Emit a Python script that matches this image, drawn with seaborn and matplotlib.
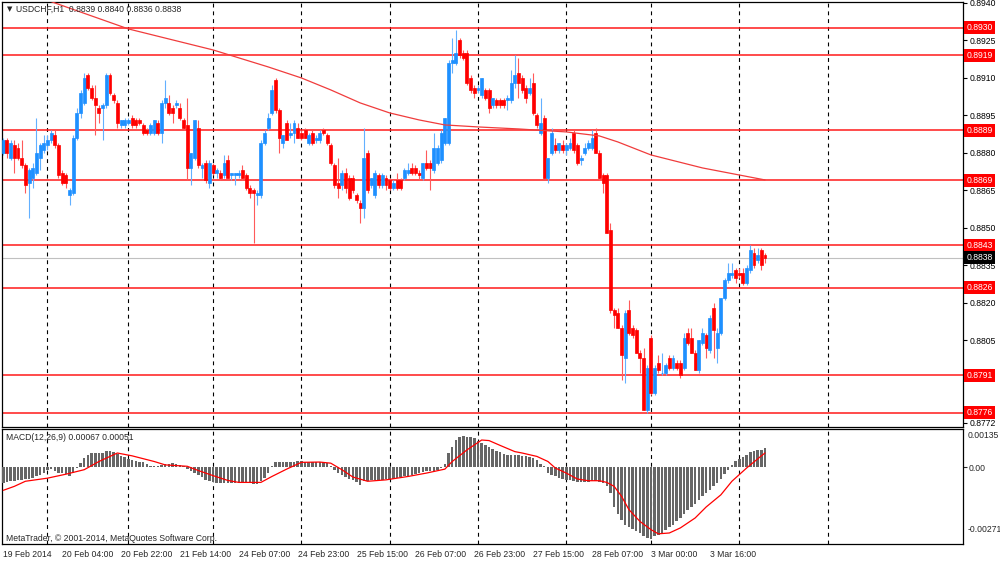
import numpy as np
import pandas as pd
import seaborn as sns
import matplotlib.pyplot as plt
from matplotlib import transforms

# USDCHF H1 bars, 19 Feb - 3 Mar 2014
opens = [
    0.8880, 0.8885, 0.8878, 0.8883, 0.8882, 0.8878, 0.8875, 0.8868, 0.8870, 0.8872,
    0.8878, 0.8881, 0.8883, 0.8885, 0.8887, 0.8883, 0.8872, 0.8871, 0.8863, 0.8864,
    0.8886, 0.8896, 0.8900, 0.8911, 0.8906, 0.8902, 0.8898, 0.8898, 0.8899, 0.8911,
    0.8903, 0.8900, 0.8891, 0.8891, 0.8892, 0.8894, 0.8893, 0.8893, 0.8891, 0.8889,
    0.8888, 0.8888, 0.8892, 0.8888, 0.8900, 0.8900, 0.8898, 0.8899, 0.8898, 0.8893,
    0.8891, 0.8874, 0.8878, 0.8890, 0.8874, 0.8876, 0.8868, 0.8875, 0.8872, 0.8872,
    0.8871, 0.8877, 0.8871, 0.8871, 0.8871, 0.8873, 0.8871, 0.8866, 0.8865, 0.8863,
    0.8863, 0.8884, 0.8890, 0.8896, 0.8909, 0.8897, 0.8884, 0.8892, 0.8887, 0.8888,
    0.8890, 0.8888, 0.8889, 0.8884, 0.8888, 0.8885, 0.8885, 0.8889, 0.8887, 0.8883,
    0.8875, 0.8868, 0.8867, 0.8872, 0.8870, 0.8870, 0.8863, 0.8860, 0.8858, 0.8880,
    0.8867, 0.8863, 0.8871, 0.8867, 0.8870, 0.8869, 0.8866, 0.8869, 0.8869, 0.8870,
    0.8872, 0.8874, 0.8874, 0.8872, 0.8870, 0.8876, 0.8876, 0.8873, 0.8876, 0.8877,
    0.8884, 0.8884, 0.8916, 0.8916, 0.8925, 0.8920, 0.8920, 0.8910, 0.8906, 0.8905,
    0.8903, 0.8905, 0.8905, 0.8899, 0.8901, 0.8901, 0.8901, 0.8901, 0.8901, 0.8908,
    0.8912, 0.8910, 0.8906, 0.8904, 0.8908, 0.8895, 0.8888, 0.8894, 0.8870, 0.8880,
    0.8883, 0.8881, 0.8883, 0.8881, 0.8882, 0.8888, 0.8883, 0.8877, 0.8880, 0.8882,
    0.8882, 0.8888, 0.8880, 0.8871, 0.8871, 0.8849, 0.8817, 0.8816, 0.8810, 0.8798,
    0.8817, 0.8810, 0.8809, 0.8800, 0.8798, 0.8777, 0.8806, 0.8784, 0.8796, 0.8792,
    0.8792, 0.8798, 0.8794, 0.8796, 0.8796, 0.8794, 0.8808, 0.8806, 0.8800, 0.8793,
    0.8804, 0.8807, 0.8801, 0.8818, 0.8802, 0.8808, 0.8822, 0.8829, 0.8831, 0.8833,
    0.8832, 0.8832, 0.8828, 0.8833, 0.8840, 0.8837, 0.8841, 0.8839,
]
highs = [
    0.8886, 0.8886, 0.8885, 0.8885, 0.8884, 0.8885, 0.8876, 0.8874, 0.8876, 0.8894,
    0.8884, 0.8887, 0.8887, 0.8889, 0.8889, 0.8884, 0.8873, 0.8872, 0.8866, 0.8887,
    0.8898, 0.8905, 0.8912, 0.8912, 0.8907, 0.8907, 0.8899, 0.8900, 0.8912, 0.8912,
    0.8904, 0.8901, 0.8893, 0.8894, 0.8894, 0.8895, 0.8894, 0.8894, 0.8892, 0.8890,
    0.8892, 0.8893, 0.8893, 0.8901, 0.8909, 0.8903, 0.8899, 0.8901, 0.8900, 0.8894,
    0.8902, 0.8880, 0.8893, 0.8893, 0.8876, 0.8877, 0.8877, 0.8876, 0.8874, 0.8873,
    0.8879, 0.8879, 0.8872, 0.8872, 0.8873, 0.8875, 0.8872, 0.8867, 0.8866, 0.8865,
    0.8885, 0.8889, 0.8896, 0.8907, 0.8910, 0.8898, 0.8887, 0.8893, 0.8892, 0.8893,
    0.8892, 0.8889, 0.8890, 0.8888, 0.8889, 0.8887, 0.8889, 0.8890, 0.8888, 0.8884,
    0.8876, 0.8878, 0.8873, 0.8874, 0.8871, 0.8871, 0.8864, 0.8861, 0.8890, 0.8881,
    0.8870, 0.8873, 0.8872, 0.8872, 0.8871, 0.8870, 0.8869, 0.8872, 0.8870, 0.8874,
    0.8876, 0.8876, 0.8875, 0.8873, 0.8876, 0.8881, 0.8877, 0.8888, 0.8883, 0.8889,
    0.8894, 0.8917, 0.8926, 0.8929, 0.8926, 0.8921, 0.8921, 0.8911, 0.8907, 0.8907,
    0.8910, 0.8906, 0.8906, 0.8902, 0.8902, 0.8902, 0.8902, 0.8903, 0.8913, 0.8919,
    0.8918, 0.8911, 0.8907, 0.8910, 0.8912, 0.8896, 0.8902, 0.8895, 0.8878, 0.8890,
    0.8886, 0.8884, 0.8885, 0.8884, 0.8886, 0.8889, 0.8884, 0.8879, 0.8884, 0.8885,
    0.8889, 0.8890, 0.8881, 0.8872, 0.8872, 0.8852, 0.8818, 0.8818, 0.8811, 0.8817,
    0.8821, 0.8811, 0.8810, 0.8801, 0.8802, 0.8795, 0.8807, 0.8795, 0.8799, 0.8800,
    0.8796, 0.8799, 0.8799, 0.8797, 0.8797, 0.8808, 0.8810, 0.8810, 0.8801, 0.8805,
    0.8810, 0.8808, 0.8815, 0.8820, 0.8810, 0.8822, 0.8830, 0.8836, 0.8836, 0.8834,
    0.8834, 0.8834, 0.8835, 0.8843, 0.8842, 0.8842, 0.8842, 0.8840,
]
lows = [
    0.8879, 0.8878, 0.8877, 0.8872, 0.8877, 0.8874, 0.8864, 0.8854, 0.8866, 0.8871,
    0.8873, 0.8880, 0.8881, 0.8884, 0.8882, 0.8870, 0.8867, 0.8866, 0.8859, 0.8863,
    0.8885, 0.8894, 0.8899, 0.8905, 0.8901, 0.8887, 0.8892, 0.8885, 0.8898, 0.8903,
    0.8900, 0.8890, 0.8890, 0.8890, 0.8891, 0.8890, 0.8890, 0.8891, 0.8887, 0.8887,
    0.8887, 0.8887, 0.8887, 0.8884, 0.8898, 0.8895, 0.8892, 0.8898, 0.8893, 0.8889,
    0.8869, 0.8867, 0.8877, 0.8874, 0.8870, 0.8868, 0.8866, 0.8871, 0.8870, 0.8869,
    0.8870, 0.8870, 0.8869, 0.8867, 0.8870, 0.8869, 0.8865, 0.8862, 0.8844, 0.8859,
    0.8862, 0.8883, 0.8889, 0.8895, 0.8896, 0.8880, 0.8882, 0.8885, 0.8886, 0.8884,
    0.8886, 0.8885, 0.8886, 0.8883, 0.8883, 0.8884, 0.8884, 0.8887, 0.8883, 0.8875,
    0.8866, 0.8862, 0.8865, 0.8864, 0.8861, 0.8864, 0.8860, 0.8852, 0.8854, 0.8864,
    0.8866, 0.8862, 0.8866, 0.8866, 0.8865, 0.8865, 0.8865, 0.8865, 0.8865, 0.8869,
    0.8871, 0.8871, 0.8871, 0.8869, 0.8869, 0.8873, 0.8865, 0.8872, 0.8875, 0.8876,
    0.8883, 0.8883, 0.8912, 0.8915, 0.8918, 0.8917, 0.8907, 0.8904, 0.8902, 0.8904,
    0.8902, 0.8901, 0.8896, 0.8898, 0.8898, 0.8898, 0.8898, 0.8897, 0.8900, 0.8906,
    0.8902, 0.8904, 0.8900, 0.8903, 0.8895, 0.8890, 0.8887, 0.8870, 0.8868, 0.8879,
    0.8880, 0.8880, 0.8880, 0.8879, 0.8881, 0.8880, 0.8875, 0.8875, 0.8879, 0.8881,
    0.8881, 0.8880, 0.8869, 0.8864, 0.8848, 0.8816, 0.8810, 0.8810, 0.8789, 0.8788,
    0.8807, 0.8806, 0.8800, 0.8792, 0.8777, 0.8776, 0.8783, 0.8783, 0.8792, 0.8791,
    0.8791, 0.8793, 0.8793, 0.8793, 0.8790, 0.8793, 0.8803, 0.8800, 0.8793, 0.8792,
    0.8803, 0.8798, 0.8800, 0.8798, 0.8796, 0.8807, 0.8821, 0.8828, 0.8830, 0.8828,
    0.8830, 0.8827, 0.8827, 0.8832, 0.8834, 0.8836, 0.8833, 0.8836,
]
closes = [
    0.8885, 0.8880, 0.8884, 0.8878, 0.8878, 0.8875, 0.8867, 0.8873, 0.8874, 0.8880,
    0.8883, 0.8884, 0.8885, 0.8888, 0.8883, 0.8871, 0.8868, 0.8868, 0.8865, 0.8886,
    0.8896, 0.8904, 0.8910, 0.8906, 0.8902, 0.8899, 0.8896, 0.8899, 0.8911, 0.8904,
    0.8901, 0.8892, 0.8893, 0.8893, 0.8893, 0.8891, 0.8891, 0.8892, 0.8888, 0.8888,
    0.8891, 0.8893, 0.8888, 0.8900, 0.8902, 0.8896, 0.8896, 0.8900, 0.8894, 0.8890,
    0.8874, 0.8880, 0.8893, 0.8875, 0.8875, 0.8869, 0.8876, 0.8872, 0.8873, 0.8870,
    0.8876, 0.8870, 0.8872, 0.8872, 0.8872, 0.8870, 0.8866, 0.8864, 0.8864, 0.8864,
    0.8884, 0.8888, 0.8894, 0.8905, 0.8897, 0.8886, 0.8887, 0.8885, 0.8888, 0.8892,
    0.8886, 0.8886, 0.8886, 0.8887, 0.8884, 0.8886, 0.8888, 0.8888, 0.8884, 0.8876,
    0.8867, 0.8866, 0.8872, 0.8866, 0.8862, 0.8865, 0.8861, 0.8858, 0.8878, 0.8865,
    0.8870, 0.8872, 0.8867, 0.8871, 0.8867, 0.8866, 0.8868, 0.8866, 0.8866, 0.8873,
    0.8873, 0.8872, 0.8872, 0.8871, 0.8876, 0.8874, 0.8874, 0.8882, 0.8882, 0.8888,
    0.8894, 0.8916, 0.8917, 0.8920, 0.8919, 0.8918, 0.8908, 0.8905, 0.8904, 0.8906,
    0.8910, 0.8902, 0.8898, 0.8902, 0.8899, 0.8899, 0.8899, 0.8902, 0.8908, 0.8911,
    0.8908, 0.8905, 0.8902, 0.8906, 0.8896, 0.8891, 0.8892, 0.8870, 0.8878, 0.8888,
    0.8881, 0.8884, 0.8881, 0.8883, 0.8884, 0.8881, 0.8876, 0.8878, 0.8882, 0.8884,
    0.8886, 0.8880, 0.8870, 0.8868, 0.8848, 0.8817, 0.8815, 0.8810, 0.8799, 0.8816,
    0.8808, 0.8807, 0.8800, 0.8798, 0.8777, 0.8794, 0.8784, 0.8794, 0.8793, 0.8792,
    0.8795, 0.8794, 0.8798, 0.8794, 0.8791, 0.8806, 0.8804, 0.8800, 0.8793, 0.8805,
    0.8808, 0.8802, 0.8814, 0.8809, 0.8808, 0.8822, 0.8829, 0.8832, 0.8832, 0.8830,
    0.8831, 0.8828, 0.8834, 0.8841, 0.8835, 0.8839, 0.8835, 0.8838,
]

# moving average line, read at a few bars
ma_bars = [0, 14, 34, 57, 72, 81, 89, 97, 105, 113, 120, 129, 140, 153, 162, 167, 176, 190, 207]
ma_values = [0.89477, 0.89399, 0.89295, 0.89211, 0.89143, 0.89099, 0.89051, 0.88999, 0.88959,
             0.88931, 0.88911, 0.88903, 0.88895, 0.88883, 0.88867, 0.88843, 0.88791, 0.88739,
             0.88691]

# MACD(12,26,9) histogram, one per bar
macd_hist = [
    -0.00055, -0.00053, -0.00049, -0.00047, -0.00046, -0.00044, -0.00041, -0.00040, -0.00038, -0.00032,
    -0.00026, -0.00020, -0.00008, -0.00006, -0.00011, -0.00018, -0.00020, -0.00022, -0.00032, -0.00018,
    -0.00002, 0.00015, 0.00033, 0.00045, 0.00051, 0.00051, 0.00051, 0.00051, 0.00059, 0.00059,
    0.00054, 0.00048, 0.00041, 0.00036, 0.00029, 0.00025, 0.00022, 0.00020, 0.00018, 0.00013,
    0.00006, 0.00004, 0.00004, 0.00007, 0.00012, 0.00013, 0.00015, 0.00013, 0.00009, 0.00006,
    -0.00006, -0.00014, -0.00020, -0.00026, -0.00034, -0.00044, -0.00049, -0.00053, -0.00055, -0.00055,
    -0.00054, -0.00055, -0.00055, -0.00055, -0.00055, -0.00055, -0.00056, -0.00056, -0.00058, -0.00058,
    -0.00049, -0.00038, -0.00020, 0.00006, 0.00018, 0.00020, 0.00019, 0.00019, 0.00019, 0.00020,
    0.00021, 0.00021, 0.00020, 0.00019, 0.00019, 0.00019, 0.00019, 0.00018, 0.00015, 0.00006,
    -0.00008, -0.00020, -0.00026, -0.00034, -0.00041, -0.00046, -0.00053, -0.00061, -0.00049, -0.00047,
    -0.00046, -0.00046, -0.00045, -0.00044, -0.00041, -0.00041, -0.00040, -0.00038, -0.00034, -0.00032,
    -0.00029, -0.00026, -0.00022, -0.00020, -0.00016, -0.00014, -0.00014, -0.00012, -0.00008, -0.00002,
    0.00013, 0.00051, 0.00074, 0.00098, 0.00109, 0.00112, 0.00109, 0.00107, 0.00104, 0.00095,
    0.00088, 0.00080, 0.00072, 0.00065, 0.00059, 0.00053, 0.00048, 0.00045, 0.00045, 0.00045,
    0.00045, 0.00042, 0.00041, 0.00038, 0.00034, 0.00025, 0.00013, 0.00004, -0.00018, -0.00026,
    -0.00032, -0.00038, -0.00041, -0.00044, -0.00046, -0.00048, -0.00051, -0.00052, -0.00052, -0.00052,
    -0.00049, -0.00049, -0.00052, -0.00054, -0.00067, -0.00091, -0.00140, -0.00166, -0.00185, -0.00203,
    -0.00211, -0.00218, -0.00224, -0.00232, -0.00244, -0.00250, -0.00252, -0.00244, -0.00238, -0.00232,
    -0.00220, -0.00211, -0.00204, -0.00191, -0.00180, -0.00165, -0.00152, -0.00141, -0.00128, -0.00115,
    -0.00102, -0.00091, -0.00081, -0.00067, -0.00055, -0.00041, -0.00025, -0.00008, 0.00009, 0.00021,
    0.00031, 0.00038, 0.00045, 0.00053, 0.00058, 0.00060, 0.00062, 0.00067,
]
# signal line, read at a few bars
signal_bars = [0, 3, 6, 12, 17, 22, 26, 31, 35, 41, 44, 50, 53, 57, 61, 64, 70, 73, 77, 81,
               86, 89, 92, 95, 99, 104, 110, 115, 120, 122, 126, 130, 132, 135, 139, 141, 145,
               148, 150, 153, 156, 159, 162, 164, 166, 168, 170, 173, 176, 178, 181, 184, 188,
               191, 195, 198, 202, 206, 207]
signal_values = [-0.00081, -0.00067, -0.00049, -0.00038, -0.00024, -0.00008, 0.00021, 0.00051,
                 0.00041, 0.00021, 0.00009, 0.00004, -0.00011, -0.00029, -0.00046, -0.00053,
                 -0.00053, -0.00032, -0.00006, 0.00018, 0.00019, 0.00015, -0.00008, -0.00034,
                 -0.00049, -0.00044, -0.00032, -0.00020, -0.00006, 0.00021, 0.00062, 0.00097,
                 0.00095, 0.00078, 0.00056, 0.00051, 0.00039, 0.00021, -0.00002, -0.00020,
                 -0.00041, -0.00047, -0.00047, -0.00053, -0.00067, -0.00102, -0.00149, -0.00191,
                 -0.00220, -0.00235, -0.00232, -0.00214, -0.00179, -0.00140, -0.00097, -0.00049,
                 -0.00002, 0.00041, 0.00051]

level_prices = [0.8930, 0.8919, 0.8889, 0.8869, 0.8843, 0.8826, 0.8791, 0.8776]
bid_price = 0.8838
price_ticks = [0.8940, 0.8925, 0.8910, 0.8895, 0.8880, 0.8865, 0.8850, 0.8835,
               0.8820, 0.8805, 0.8772]
day_start_bars = [12, 34, 57, 81, 105, 129, 153, 176, 200, 224]
label_bars = [0, 16, 32, 48, 64, 80, 96, 112, 128, 144, 160, 176, 192]
time_labels = ['19 Feb 2014', '20 Feb 04:00', '20 Feb 22:00', '21 Feb 14:00', '24 Feb 07:00',
               '24 Feb 23:00', '25 Feb 15:00', '26 Feb 07:00', '26 Feb 23:00', '27 Feb 15:00',
               '28 Feb 07:00', '3 Mar 00:00', '3 Mar 16:00']

sns.set_style('white')
plt.rcParams['font.family'] = ['Liberation Sans', 'DejaVu Sans']
fs = 6.2

df = pd.DataFrame({'open': opens, 'high': highs, 'low': lows, 'close': closes})
df['bar'] = np.arange(len(df))
df['up'] = df['close'] >= df['open']
df['color'] = np.where(df['up'], '#1e90ff', '#ff0000')
df['wick'] = np.where(df['up'], '#62b0ff', '#ff5a5a')

fig = plt.figure(figsize=(10, 5.61), dpi=100)
ax = fig.add_axes([0.002, 0.2394, 0.961, 0.7576])
ax2 = fig.add_axes([0.002, 0.0303, 0.961, 0.2045])

for a in (ax, ax2):
    a.set_xlim(-0.35, 260.8)
    for s in a.spines.values():
        s.set_color('black')
        s.set_linewidth(0.9)
    for b in day_start_bars:
        a.axvline(b, color='black', lw=0.8, ls=(0, (3.5, 3.5)), zorder=1)

# main price panel
ax.set_ylim(0.87704, 0.89404)
for p in level_prices:
    ax.axhline(p, color='#ff1a1a', lw=1.1, zorder=2)
ax.axhline(bid_price, color='#c0c0c0', lw=0.8, zorder=2)

ax.vlines(df['bar'], df['low'], df['high'], colors=df['wick'], lw=0.8, zorder=3)
ax.bar(df['bar'], (df['close'] - df['open']).abs(), bottom=df[['open', 'close']].min(axis=1),
       width=0.8, color=df['color'], edgecolor=df['color'], linewidth=0.5, zorder=4)

sns.lineplot(x=ma_bars, y=ma_values, ax=ax, color='#f03c3c', lw=0.9, zorder=5)

ax.set_xticks([])
ax.yaxis.tick_right()
ax.set_yticks(price_ticks)
ax.set_yticklabels([f'{p:.4f}' for p in price_ticks])
ax.tick_params(axis='y', direction='out', length=3, width=0.8, pad=1.5, labelsize=fs,
               colors='black')
ax.set_xlabel('')
ax.set_ylabel('')

tr = transforms.blended_transform_factory(ax.transAxes, ax.transData)
for p in level_prices:
    ax.text(1.0035, p, f'{p:.4f}', transform=tr, color='white', fontsize=fs, va='center',
            ha='left', bbox=dict(boxstyle='square,pad=0.25', fc='#ff0000', ec='none'), zorder=6)
ax.text(1.0035, bid_price, f'{bid_price:.4f}', transform=tr, color='white', fontsize=fs,
        va='center', ha='left', bbox=dict(boxstyle='square,pad=0.25', fc='black', ec='none'),
        zorder=6)

# MACD panel
ax2.set_ylim(-0.00271, 0.00135)
ax2.bar(df['bar'], macd_hist, width=0.68, color='#666666', linewidth=0, zorder=3)
sns.lineplot(x=signal_bars, y=signal_values, ax=ax2, color='#ff0000', lw=0.9, zorder=4)
ax2.yaxis.tick_right()
ax2.set_yticks([0])
ax2.set_yticklabels(['0.00'])
ax2.tick_params(axis='y', direction='out', length=3, width=0.8, pad=1, labelsize=fs)
ax2.text(1.0045, 0.944, '0.00135', transform=ax2.transAxes, fontsize=fs, va='center', ha='left')
ax2.text(1.0045, 0.128, '-0.00271', transform=ax2.transAxes, fontsize=fs, va='center', ha='left')
ax2.set_xticks(label_bars)
ax2.set_xticklabels(time_labels, ha='left')
ax2.tick_params(axis='x', direction='out', length=3, width=0.8, pad=1, labelsize=fs)
ax2.set_xlabel('')
ax2.set_ylabel('')

fig.text(0.0068, 1 - 9.5 / 561, '\u25bc', fontsize=5, va='center', ha='left',
         family=['DejaVu Sans'])
fig.text(0.016, 1 - 9.5 / 561, 'USDCHF,H1  0.8839 0.8840 0.8836 0.8838', fontsize=fs,
         va='center', ha='left')
fig.text(0.006, 1 - 437.3 / 561, 'MACD(12,26,9) 0.00067 0.00051', fontsize=fs, va='center',
         ha='left')
fig.text(0.006, 1 - 538.3 / 561, 'MetaTrader, \u00a9 2001-2014, MetaQuotes Software Corp.',
         fontsize=fs, va='center', ha='left')

fig.savefig('out.png', dpi=100, facecolor='white')
